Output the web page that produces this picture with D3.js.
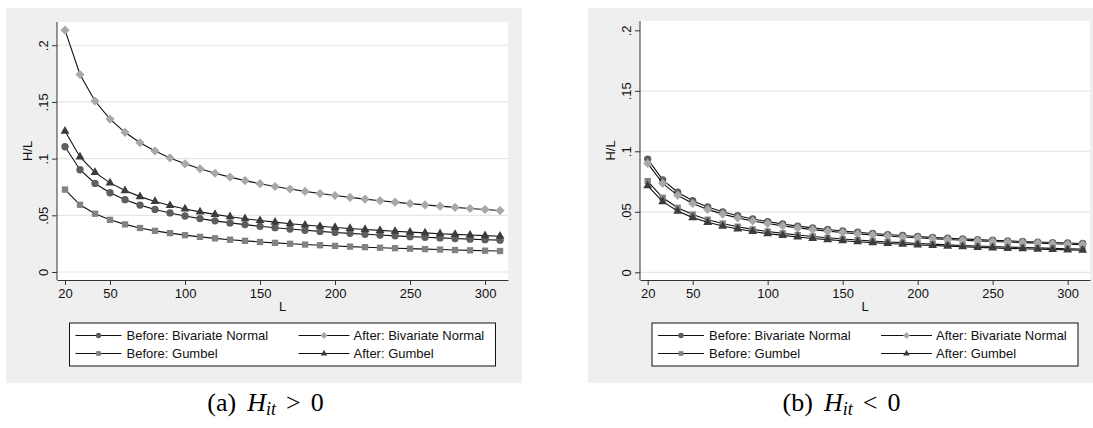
<!DOCTYPE html>
<html>
<head>
<meta charset="utf-8">
<script src="https://cdn.jsdelivr.net/npm/d3@7"></script>
<style>
  body { margin: 0; background: #ffffff; }
  svg { display: block; }
</style>
</head>
<body>
<svg id="fig" width="1093" height="428"></svg>
<script>
// Block length L on the x axis
const blockLengths = [20, 30, 40, 50, 60, 70, 80, 90, 100, 110, 120, 130, 140, 150, 160,
                      170, 180, 190, 200, 210, 220, 230, 240, 250, 260, 270, 280, 290, 300, 310];

const seriesNames = ["Before: Bivariate Normal", "After: Bivariate Normal",
                     "Before: Gumbel", "After: Gumbel"];

const yTicks = [0, 0.05, 0.1, 0.15, 0.2];
const yTickLabels = ["0", ".05", ".1", ".15", ".2"];
const xTicks = [20, 50, 100, 150, 200, 250, 300];

// Panel (a): H_it > 0
const posBeforeBN = [0.1105, 0.0902, 0.0781, 0.0699, 0.0638, 0.0590, 0.0552, 0.0521, 0.0494, 0.0471,
                     0.0451, 0.0433, 0.0418, 0.0403, 0.0391, 0.0379, 0.0368, 0.0358, 0.0349, 0.0341,
                     0.0333, 0.0326, 0.0319, 0.0312, 0.0306, 0.0301, 0.0295, 0.0290, 0.0285, 0.0281];
const posAfterBN  = [0.2133, 0.1742, 0.1508, 0.1349, 0.1232, 0.1140, 0.1067, 0.1006, 0.0954, 0.0910,
                     0.0871, 0.0837, 0.0806, 0.0779, 0.0754, 0.0732, 0.0711, 0.0692, 0.0675, 0.0658,
                     0.0643, 0.0629, 0.0616, 0.0603, 0.0592, 0.0581, 0.0570, 0.0560, 0.0551, 0.0542];
const posBeforeGum = [0.0727, 0.0593, 0.0514, 0.0460, 0.0420, 0.0388, 0.0363, 0.0343, 0.0325, 0.0310,
                      0.0297, 0.0285, 0.0275, 0.0265, 0.0257, 0.0249, 0.0242, 0.0236, 0.0230, 0.0224,
                      0.0219, 0.0214, 0.0210, 0.0206, 0.0202, 0.0198, 0.0194, 0.0191, 0.0188, 0.0185];
const posAfterGum = [0.1243, 0.1015, 0.0879, 0.0786, 0.0718, 0.0665, 0.0622, 0.0586, 0.0556, 0.0530,
                     0.0508, 0.0488, 0.0470, 0.0454, 0.0440, 0.0426, 0.0414, 0.0403, 0.0393, 0.0384,
                     0.0375, 0.0367, 0.0359, 0.0352, 0.0345, 0.0338, 0.0332, 0.0326, 0.0321, 0.0316];

// Panel (b): H_it < 0
const negBeforeBN = [0.0936, 0.0764, 0.0662, 0.0592, 0.0540, 0.0500, 0.0468, 0.0441, 0.0419, 0.0399,
                     0.0382, 0.0367, 0.0354, 0.0342, 0.0331, 0.0321, 0.0312, 0.0304, 0.0296, 0.0289,
                     0.0282, 0.0276, 0.0270, 0.0265, 0.0260, 0.0255, 0.0250, 0.0246, 0.0242, 0.0238];
const negAfterBN  = [0.0900, 0.0735, 0.0636, 0.0569, 0.0520, 0.0481, 0.0450, 0.0424, 0.0403, 0.0384,
                     0.0367, 0.0353, 0.0340, 0.0329, 0.0318, 0.0309, 0.0300, 0.0292, 0.0285, 0.0278,
                     0.0271, 0.0265, 0.0260, 0.0255, 0.0250, 0.0245, 0.0241, 0.0236, 0.0232, 0.0229];
const negBeforeGum = [0.0754, 0.0616, 0.0533, 0.0477, 0.0435, 0.0403, 0.0377, 0.0355, 0.0337, 0.0322,
                      0.0308, 0.0296, 0.0285, 0.0275, 0.0267, 0.0259, 0.0251, 0.0245, 0.0238, 0.0233,
                      0.0227, 0.0222, 0.0218, 0.0213, 0.0209, 0.0205, 0.0202, 0.0198, 0.0195, 0.0192];
const negAfterGum = [0.0715, 0.0584, 0.0506, 0.0452, 0.0413, 0.0382, 0.0358, 0.0337, 0.0320, 0.0305,
                     0.0292, 0.0280, 0.0270, 0.0261, 0.0253, 0.0245, 0.0238, 0.0232, 0.0226, 0.0221,
                     0.0216, 0.0211, 0.0206, 0.0202, 0.0198, 0.0195, 0.0191, 0.0188, 0.0185, 0.0182];

// Marker look for each series, in the order of seriesNames
const markerLook = [
  { shape: "circle",   fill: "#5e5e5e" },
  { shape: "diamond",  fill: "#a8a8a8" },
  { shape: "square",   fill: "#828282" },
  { shape: "triangle", fill: "#3c3c3c" }
];

const SANS = "'Liberation Sans', Arial, Helvetica, sans-serif";
const SERIF = "'Liberation Serif', 'Times New Roman', serif";
const FS = 13;

const svg = d3.select("#fig");

function symbolPath(shape, k) {
  if (shape === "circle") return d3.symbol(d3.symbolCircle, 42 * k)();
  if (shape === "square") return d3.symbol(d3.symbolSquare, 40 * k)();
  if (shape === "diamond") return d3.symbol(d3.symbolSquare, 42 * k)();
  return d3.symbol(d3.symbolTriangle, 34 * k)();
}

function drawMarker(sel, look, x, y, k = 1) {
  const rot = look.shape === "diamond" ? " rotate(45)" : "";
  sel.append("path")
    .attr("d", symbolPath(look.shape, k))
    .attr("transform", `translate(${x},${y})${rot}`)
    .attr("fill", look.fill)
    .attr("stroke", "none");
}

function drawPanel(cfg) {
  const g = svg.append("g");

  // outer graph region
  g.append("rect")
    .attr("x", cfg.bg.x).attr("y", cfg.bg.y)
    .attr("width", cfg.bg.w).attr("height", cfg.bg.h)
    .attr("fill", "#efefef");

  // plot region
  g.append("rect")
    .attr("x", cfg.plot.x0).attr("y", cfg.plot.y0)
    .attr("width", cfg.plot.x1 - cfg.plot.x0).attr("height", cfg.plot.y1 - cfg.plot.y0)
    .attr("fill", "#ffffff");

  const x = d3.scaleLinear().domain(cfg.xDomain).range([cfg.plot.x0, cfg.plot.x1]);
  const y = d3.scaleLinear().domain(cfg.yDomain).range([cfg.plot.y1, cfg.plot.y0]);

  // horizontal grid lines
  g.append("g").selectAll("line")
    .data(yTicks.filter(t => cfg.gridTicks.includes(t)))
    .join("line")
    .attr("x1", cfg.plot.x0).attr("x2", cfg.plot.x1)
    .attr("y1", d => y(d)).attr("y2", d => y(d))
    .attr("stroke", "#e6e6e6").attr("stroke-width", 1.2);

  // series: connecting line then markers
  const line = d3.line().x((d, i) => x(blockLengths[i])).y(d => y(d));
  cfg.series.forEach((vals, si) => {
    g.append("path")
      .datum(vals)
      .attr("d", line)
      .attr("fill", "none")
      .attr("stroke", "#111111")
      .attr("stroke-width", 1.1);
    const mg = g.append("g");
    vals.forEach((v, i) => drawMarker(mg, markerLook[si], x(blockLengths[i]), y(v)));
  });

  // y axis
  const yAxis = g.append("g")
    .attr("transform", `translate(${cfg.plot.x0},0)`)
    .call(d3.axisLeft(y).tickValues(yTicks)
      .tickFormat((d, i) => yTickLabels[i])
      .tickSize(5).tickSizeOuter(0));
  yAxis.select(".domain").attr("stroke", "#333333").attr("d", `M0,${cfg.plot.y0}V${cfg.plot.y1}`);
  yAxis.selectAll(".tick line").attr("stroke", "#333333");
  yAxis.selectAll(".tick text")
    .attr("transform", "rotate(-90)")
    .attr("x", 0).attr("y", -9).attr("dy", 0)
    .attr("text-anchor", "middle")
    .attr("font-family", SANS).attr("font-size", FS).attr("fill", "#111");

  // x axis
  const xAxis = g.append("g")
    .attr("transform", `translate(0,${cfg.plot.y1})`)
    .call(d3.axisBottom(x).tickValues(xTicks).tickSize(5).tickSizeOuter(0).tickPadding(4));
  xAxis.select(".domain").attr("stroke", "#333333");
  xAxis.selectAll(".tick line").attr("stroke", "#333333");
  xAxis.selectAll(".tick text")
    .attr("font-family", SANS).attr("font-size", FS).attr("fill", "#111");

  const cx = (cfg.plot.x0 + cfg.plot.x1) / 2;
  const cy = (cfg.plot.y0 + cfg.plot.y1) / 2;

  // axis titles
  g.append("text")
    .attr("transform", `translate(${cfg.plot.x0 - 25},${cy}) rotate(-90)`)
    .attr("text-anchor", "middle")
    .attr("font-family", SANS).attr("font-size", FS).attr("fill", "#111")
    .text("H/L");
  g.append("text")
    .attr("x", cx).attr("y", cfg.plot.y1 + 31)
    .attr("text-anchor", "middle")
    .attr("font-family", SANS).attr("font-size", FS).attr("fill", "#111")
    .text("L");

  // legend
  const bw = 426, bh = 43;
  const bx = cx - bw / 2, by = 323;
  const lg = g.append("g");
  lg.append("rect")
    .attr("x", bx).attr("y", by).attr("width", bw).attr("height", bh)
    .attr("fill", "#ffffff").attr("stroke", "#111").attr("stroke-width", 1);
  const colStart = [6, 229], colLen = [46, 51], textOff = [57, 284];
  const rowY = [by + 12.5, by + 30.5];
  seriesNames.forEach((name, i) => {
    const c = i % 2, r = Math.floor(i / 2);
    const x0 = bx + colStart[c], x1 = x0 + colLen[c], yy = rowY[r];
    lg.append("line")
      .attr("x1", x0).attr("x2", x1).attr("y1", yy).attr("y2", yy)
      .attr("stroke", "#111").attr("stroke-width", 1.1);
    drawMarker(lg, markerLook[i], (x0 + x1) / 2, yy, 0.55);
    lg.append("text")
      .attr("x", bx + textOff[c]).attr("y", yy).attr("dy", "0.35em")
      .attr("font-family", SANS).attr("font-size", FS).attr("fill", "#111")
      .text(name);
  });

  // sub-figure caption
  const cap = svg.append("text")
    .attr("x", cfg.captionX).attr("y", 411)
    .attr("text-anchor", "middle")
    .attr("font-family", SERIF).attr("font-size", 26).attr("fill", "#000");
  cap.append("tspan").text(cfg.tag);
  cap.append("tspan").attr("dx", 11).attr("font-style", "italic").text("H");
  cap.append("tspan").attr("font-style", "italic").attr("font-size", 18)
    .attr("dy", 4).text("it");
  cap.append("tspan").attr("dx", 10).attr("dy", -4).text(cfg.op);
  cap.append("tspan").attr("dx", 10).text("0");
}

drawPanel({
  bg: { x: 6, y: 8, w: 516, h: 375 },
  plot: { x0: 57, x1: 508, y0: 22, y1: 280 },
  xDomain: [14.67, 315.3],
  yDomain: [-0.00705, 0.2205],
  gridTicks: [0, 0.05, 0.1, 0.15, 0.2],
  series: [posBeforeBN, posAfterBN, posBeforeGum, posAfterGum],
  captionX: 265.5, tag: "(a)", op: ">"
});

drawPanel({
  bg: { x: 588, y: 8, w: 520, h: 375 },
  plot: { x0: 640, x1: 1090, y0: 21, y1: 280 },
  xDomain: [14.87, 314.9],
  yDomain: [-0.00636, 0.2077],
  gridTicks: [0, 0.05, 0.1, 0.15],
  series: [negBeforeBN, negAfterBN, negBeforeGum, negAfterGum],
  captionX: 841.5, tag: "(b)", op: "<"
});
</script>
</body>
</html>
